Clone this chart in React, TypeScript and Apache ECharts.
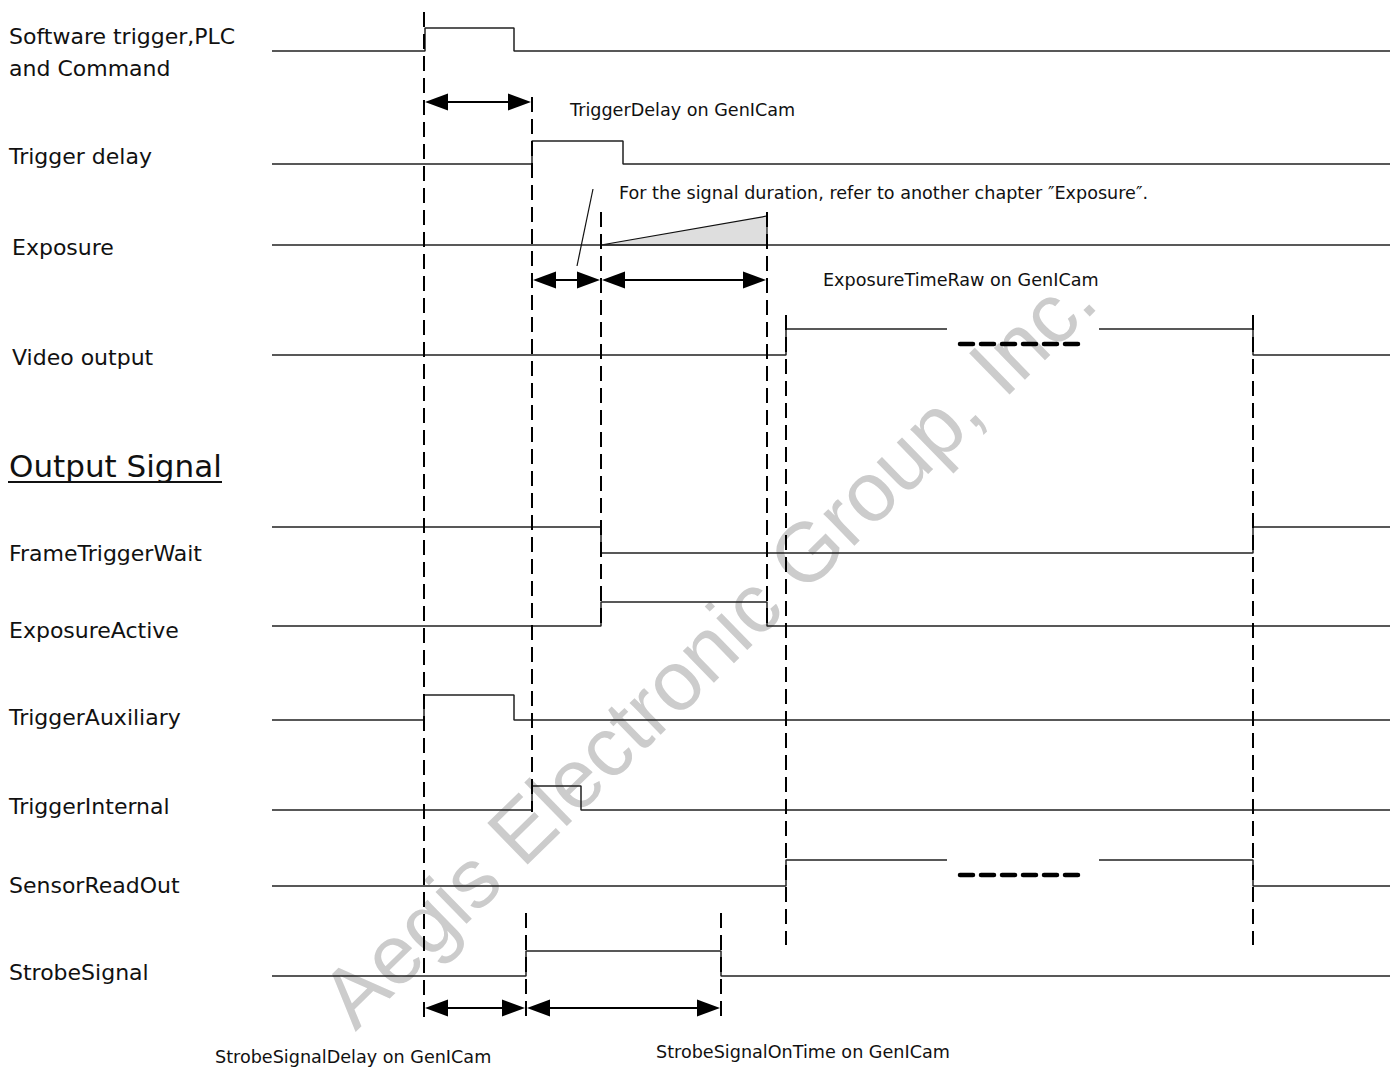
import React, { useEffect, useRef } from "react";
import * as echarts from "echarts";

// ---- data ----
const TIME_START = 272;
const TIME_END = 1390;

const laneNames = [
  "Software trigger,PLC",
  "Trigger delay",
  "Exposure",
  "Video output",
  "FrameTriggerWait",
  "ExposureActive",
  "TriggerAuxiliary",
  "TriggerInternal",
  "SensorReadOut",
  "StrobeSignal",
];
const laneLow = [51, 164, 245, 355, 553, 626, 720, 810, 886, 976];
const laneHigh = [28, 141, 216, 329, 527, 602, 695, 786, 860, 951];
const laneStart = [0, 0, 0, 0, 1, 0, 0, 0, 0, 0];
const laneEdges = [
  [425, 514],
  [532, 623],
  [],
  [786, 1253],
  [601, 1253],
  [601, 767],
  [424, 514],
  [532, 581],
  [786, 1253],
  [526, 721],
];
const laneGaps = [null, null, null, [947, 1099], null, null, null, null, [947, 1099], null];
const ellipsisLanes = [344, 875];
const ellipsisRange = [960, 1086];

const exposureRamp = [
  [601, 245],
  [767, 216],
  [767, 245],
];

const guides = [
  [424, 12, 1020],
  [532, 97, 812],
  [601, 212, 630],
  [767, 212, 630],
  [786, 315, 945],
  [1253, 315, 945],
  [526, 913, 1020],
  [721, 913, 1020],
];

const spans = [
  [424, 532, 102],
  [532, 601, 280],
  [601, 767, 280],
  [424, 526, 1008],
  [526, 721, 1008],
];

const leader = [
  [577, 266],
  [593, 189],
];

const spanLabels = [
  "TriggerDelay on GenICam",
  "For the signal duration, refer to another chapter \u2033Exposure\u2033.",
  "ExposureTimeRaw on GenICam",
  "StrobeSignalDelay on GenICam",
  "StrobeSignalOnTime on GenICam",
];
const sectionTitle = "Output Signal";
const watermark = "Aegis Electronic Group, Inc.";

// ---- helpers ----
function buildSegments(i: number) {
  const yOf = (lv: number) => (lv ? laneHigh[i] : laneLow[i]);
  let level = laneStart[i];
  const pts: number[][] = [[TIME_START, yOf(level)]];
  for (const e of laneEdges[i]) {
    pts.push([e, yOf(level)]);
    level = 1 - level;
    pts.push([e, yOf(level)]);
  }
  pts.push([TIME_END, yOf(level)]);
  const gap = laneGaps[i];
  if (!gap) return [pts];
  const segs: number[][][] = [];
  let cur: number[][] = [];
  for (let k = 0; k < pts.length; k++) {
    const p = pts[k];
    const prev = pts[k - 1];
    if (prev && prev[0] < gap[0] && p[0] > gap[1] && prev[1] === p[1]) {
      cur.push([gap[0], p[1]]);
      segs.push(cur);
      cur = [[gap[1], p[1]]];
    }
    cur.push(p);
  }
  segs.push(cur);
  return segs;
}

const FONT = "'DejaVu Sans', 'Noto Sans', sans-serif";

export default function App() {
  const ref = useRef<HTMLDivElement>(null);
  useEffect(() => {
    if (!ref.current) return;
    const chart = echarts.init(ref.current, undefined, { renderer: "svg" });

    const series: any[] = [];
    laneNames.forEach((_, i) => {
      buildSegments(i).forEach((seg) => {
        series.push({
          type: "line",
          data: seg,
          showSymbol: false,
          silent: true,
          z: 5,
          lineStyle: { color: "#222", width: 1.5 },
        });
      });
    });
    ellipsisLanes.forEach((y) => {
      series.push({
        type: "line",
        data: [
          [ellipsisRange[0], y],
          [ellipsisRange[1], y],
        ],
        showSymbol: false,
        z: 5,
        lineStyle: { color: "#000", width: 4.5, type: [13, 8], cap: "round" },
      });
    });
    // exposure ramp
    series.push({
      type: "custom",
      clip: false,
      z: 4,
      data: [0],
      renderItem: (_p: any, api: any) => {
        const pts = exposureRamp.map((p) => api.coord(p));
        return {
          type: "group",
          children: [
            { type: "polygon", shape: { points: pts }, style: { fill: "#dedede", stroke: "#111", lineWidth: 1.2 } },
          ],
        };
      },
    });
    // dashed guides
    series.push({
      type: "custom",
      clip: false,
      z: 6,
      data: guides,
      renderItem: (_p: any, api: any) => {
        const a = api.coord([api.value(0), api.value(1)]);
        const b = api.coord([api.value(0), api.value(2)]);
        return {
          type: "line",
          shape: { x1: a[0], y1: a[1], x2: b[0], y2: b[1] },
          style: { stroke: "#000", lineWidth: 2, lineDash: [15, 7] },
        };
      },
    });
    // double arrows
    series.push({
      type: "custom",
      clip: false,
      z: 7,
      data: spans,
      renderItem: (_p: any, api: any) => {
        const a = api.coord([api.value(0), api.value(2)]);
        const b = api.coord([api.value(1), api.value(2)]);
        const L = 24;
        const H = 8.5;
        return {
          type: "group",
          children: [
            { type: "line", shape: { x1: a[0] + L - 2, y1: a[1], x2: b[0] - L + 2, y2: b[1] }, style: { stroke: "#000", lineWidth: 2 } },
            { type: "polygon", shape: { points: [[a[0] + 1, a[1]], [a[0] + L, a[1] - H], [a[0] + L, a[1] + H]] }, style: { fill: "#000" } },
            { type: "polygon", shape: { points: [[b[0] - 1, b[1]], [b[0] - L, b[1] - H], [b[0] - L, b[1] + H]] }, style: { fill: "#000" } },
          ],
        };
      },
    });
    // leader line
    series.push({
      type: "line",
      data: leader,
      showSymbol: false,
      z: 5,
      lineStyle: { color: "#111", width: 1.2 },
    });

    const labelY = [36, 156, 247, 357, 553, 630, 717, 806, 885, 972];
    const labelX = [9, 9, 12, 12, 9, 9, 9, 9, 9, 9];
    const graphic: any[] = [
      {
        type: "text",
        x: 708,
        y: 648,
        rotation: (44.3 * Math.PI) / 180,
        z: 0,
        silent: true,
        style: {
          text: watermark,
          font: "84px 'Liberation Sans', Arial, sans-serif",
          fill: "#cccccc",
          align: "center",
          verticalAlign: "middle",
        },
      },
    ];
    laneNames.forEach((n, i) => {
      graphic.push({
        type: "text",
        x: labelX[i],
        y: labelY[i],
        z: 10,
        style: { text: n, font: `22px ${FONT}`, fill: "#111", verticalAlign: "middle" },
      });
    });
    graphic.push({
      type: "text",
      x: 9,
      y: 68,
      z: 10,
      style: { text: "and Command", font: `22px ${FONT}`, fill: "#111", verticalAlign: "middle" },
    });
    graphic.push({
      type: "text",
      x: 9,
      y: 466,
      z: 10,
      style: { text: sectionTitle, font: `31px ${FONT}`, fill: "#111", verticalAlign: "middle" },
    });
    graphic.push({
      type: "line",
      z: 10,
      shape: { x1: 8, y1: 482, x2: 222, y2: 482 },
      style: { stroke: "#111", lineWidth: 2 },
    });
    const spanLabelPos = [
      [570, 110],
      [619, 193],
      [823, 280],
      [215, 1057],
      [656, 1052],
    ];
    spanLabels.forEach((t, i) => {
      graphic.push({
        type: "text",
        x: spanLabelPos[i][0],
        y: spanLabelPos[i][1],
        z: 10,
        style: { text: t, font: `17.6px ${FONT}`, fill: "#111", verticalAlign: "middle" },
      });
    });

    chart.setOption({
      animation: false,
      backgroundColor: "#fff",
      grid: { left: 0, right: 0, top: 0, bottom: 0 },
      xAxis: { type: "value", min: 0, max: 1390, show: false },
      yAxis: { type: "value", min: 0, max: 1068, inverse: true, show: false },
      graphic,
      series,
    });
    return () => chart.dispose();
  }, []);
  return (
    <div
      ref={ref}
      style={{ position: "fixed", left: 0, top: 0, width: 1390, height: 1068, background: "#fff" }}
    />
  );
}
